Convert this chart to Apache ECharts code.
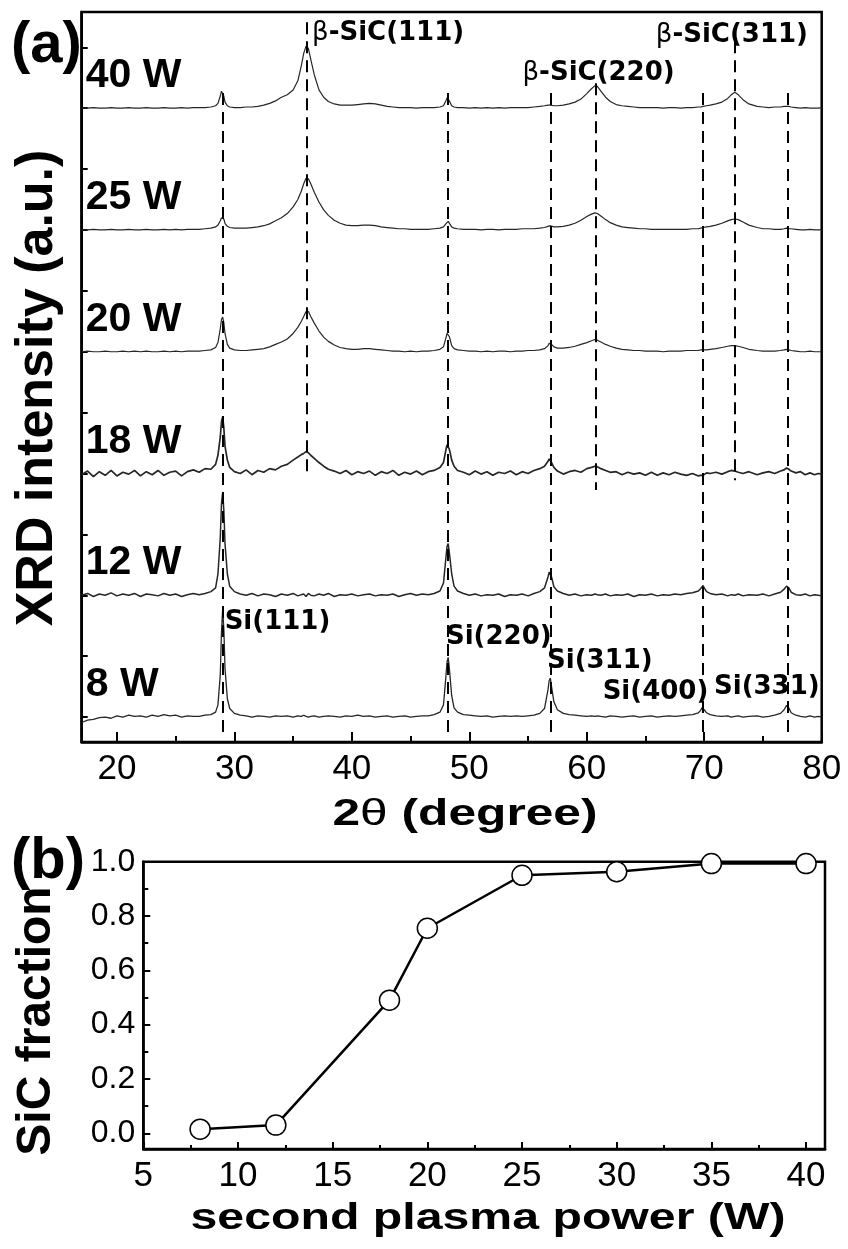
<!DOCTYPE html>
<html>
<head>
<meta charset="utf-8">
<script src="https://cdn.jsdelivr.net/npm/echarts@6/dist/echarts.min.js"></script>
<style>
  html, body { margin: 0; padding: 0; background: #fff; }
  #chart { width: 848px; height: 1249px; }
</style>
</head>
<body>
<div id="chart"></div>
<script>
// ---- XRD patterns: shared 2-theta grid (degree) ----
const twoTheta = [
  17.0,17.5,18.0,18.5,19.0,19.5,20.0,20.5,21.0,21.5,
  22.0,22.5,23.0,23.5,24.0,24.5,25.0,25.5,26.0,26.5,
  27.0,27.5,28.0,28.4,28.6,28.8,28.9,29.0,29.1,29.2,
  29.4,29.6,30.0,30.5,31.0,31.5,32.0,32.5,33.0,33.5,
  34.0,34.5,35.0,35.4,35.7,35.9,36.1,36.2,36.3,36.5,
  36.8,37.2,37.6,38.0,38.5,39.0,39.5,40.0,40.5,41.0,
  41.5,42.0,42.5,43.0,43.5,44.0,44.5,45.0,45.5,46.0,
  46.5,47.0,47.5,47.8,48.0,48.1,48.2,48.3,48.5,48.7,
  49.0,49.5,50.0,50.5,51.0,51.5,52.0,52.5,53.0,53.5,
  54.0,54.5,55.0,55.5,56.0,56.4,56.7,56.8,56.9,57.0,
  57.2,57.5,58.0,58.5,59.0,59.5,60.0,60.4,60.7,60.8,
  60.9,61.2,61.6,62.0,62.5,63.0,63.5,64.0,64.5,65.0,
  65.5,66.0,66.5,67.0,67.5,68.0,68.5,69.0,69.5,69.7,
  69.8,69.9,70.0,70.2,70.5,71.0,71.5,72.0,72.3,72.6,
  72.9,73.3,73.8,74.5,75.0,75.5,76.0,76.5,76.8,77.0,
  77.1,77.2,77.4,77.8,78.2,78.6,79.0,79.4,79.7,80.0
];

// Stacked intensities (a.u., already shifted by the stacking offset)
const xrd8W = [
  -0.09,-0.05,-0.04,-0.01,0.0,-0.02,0.02,0.0,0.03,0.01,
  0.02,0.0,0.03,0.01,0.04,0.02,0.03,0.0,0.02,0.01,
  0.01,0.03,0.04,0.08,0.2,0.7,1.4,1.76,1.45,0.8,
  0.3,0.14,0.06,0.03,0.02,0.0,0.02,0.01,0.0,0.02,
  0.01,0.02,0.0,0.02,0.01,0.03,0.01,0.02,0.0,0.01,
  0.02,0.0,0.01,0.02,0.01,0.0,0.02,0.01,0.03,0.01,
  0.02,0.0,0.01,0.02,0.0,0.01,0.02,0.0,0.01,0.02,
  0.02,0.04,0.08,0.2,0.65,0.9,0.98,0.8,0.35,0.15,
  0.08,0.04,0.03,0.02,0.01,0.02,0.0,0.01,0.02,0.01,
  0.02,0.01,0.02,0.03,0.06,0.14,0.45,0.6,0.64,0.5,
  0.25,0.12,0.06,0.04,0.03,0.02,0.01,0.02,0.01,0.0,
  0.02,0.01,0.0,0.02,0.01,0.0,0.01,0.02,0.0,0.01,
  0.02,0.0,0.01,0.02,0.01,0.02,0.03,0.04,0.07,0.11,
  0.15,0.16,0.12,0.07,0.04,0.02,0.01,0.02,0.0,0.01,
  0.02,0.0,0.01,0.02,0.0,0.01,0.03,0.06,0.12,0.19,
  0.2,0.15,0.07,0.03,0.01,0.0,0.02,0.0,0.01,0.0
];
const xrd12W = [
  2.0,2.03,1.98,2.02,2.0,2.04,1.99,2.02,2.0,2.03,
  1.98,2.02,2.01,1.99,2.03,2.0,2.02,1.98,2.01,2.03,
  2.01,2.03,2.06,2.12,2.35,2.95,3.5,3.69,3.4,2.85,
  2.35,2.15,2.06,2.02,2.0,2.03,1.99,2.02,2.01,1.98,
  2.02,2.0,2.03,1.99,2.01,2.02,1.98,2.01,2.03,2.0,
  1.99,2.02,2.0,2.03,1.98,2.01,2.0,2.02,1.99,2.01,
  2.02,1.99,2.01,2.0,2.02,1.98,2.01,2.03,2.0,2.02,
  2.01,2.03,2.07,2.2,2.6,2.8,2.85,2.7,2.35,2.15,
  2.07,2.03,2.0,2.02,1.99,2.01,2.0,2.02,1.98,2.01,
  2.0,2.02,1.99,2.03,2.06,2.12,2.3,2.38,2.41,2.3,
  2.14,2.07,2.03,2.0,2.02,1.99,2.01,2.0,2.02,1.99,
  2.01,2.0,2.02,1.99,2.01,2.0,2.02,1.98,2.01,2.0,
  2.02,1.99,2.01,2.0,2.02,2.01,2.03,2.04,2.07,2.11,
  2.14,2.16,2.12,2.06,2.03,2.01,2.02,1.99,2.01,2.0,
  2.02,1.99,2.01,2.0,2.02,1.99,2.02,2.05,2.1,2.15,
  2.16,2.12,2.05,2.01,2.0,2.02,1.99,2.01,2.0,1.99
];
const xrd18W = [
  3.98,4.04,3.95,4.03,3.97,4.05,3.96,4.02,3.99,4.05,
  3.96,4.03,3.98,4.05,3.97,4.02,4.04,3.96,4.03,4.06,
  4.02,4.08,4.07,4.15,4.3,4.6,4.85,4.93,4.75,4.45,
  4.22,4.1,4.03,4.0,4.06,3.98,4.05,4.02,4.08,4.06,
  4.12,4.15,4.22,4.27,4.31,4.33,4.36,4.37,4.34,4.3,
  4.25,4.18,4.12,4.07,4.04,4.0,4.05,3.98,4.03,4.0,
  4.04,3.97,4.03,4.0,4.05,3.97,4.02,3.99,4.04,3.98,
  4.03,4.05,4.1,4.18,4.38,4.47,4.49,4.4,4.22,4.12,
  4.05,4.02,3.98,4.04,3.99,4.03,3.97,4.02,4.0,4.04,
  3.98,4.03,4.0,4.05,4.08,4.12,4.2,4.24,4.25,4.18,
  4.1,4.04,3.99,4.03,4.05,4.02,4.08,4.1,4.12,4.12,
  4.11,4.08,4.05,4.02,4.03,3.98,4.02,3.99,4.01,3.97,
  4.02,3.97,4.01,3.98,4.02,3.99,3.97,4.0,3.96,3.97,
  3.95,3.97,3.98,4.01,4.0,4.02,3.99,4.03,4.05,4.04,
  4.02,4.0,4.03,3.98,4.01,4.03,4.0,4.04,4.06,4.09,
  4.1,4.07,4.04,4.01,4.03,3.98,4.01,3.98,4.0,3.99
];
const xrd20W = [
  6.0,6.01,6.0,6.0,6.01,6.0,6.0,6.01,6.0,6.01,
  6.0,6.01,6.0,6.0,6.01,6.0,6.01,6.0,6.01,6.01,
  6.01,6.02,6.03,6.07,6.15,6.38,6.53,6.57,6.48,6.3,
  6.12,6.06,6.03,6.02,6.02,6.03,6.04,6.05,6.08,6.12,
  6.16,6.21,6.3,6.4,6.5,6.58,6.66,6.69,6.66,6.58,
  6.47,6.34,6.24,6.17,6.11,6.07,6.05,6.04,6.04,6.05,
  6.05,6.04,6.03,6.02,6.01,6.01,6.0,6.01,6.0,6.01,
  6.01,6.02,6.04,6.08,6.22,6.3,6.33,6.25,6.1,6.05,
  6.03,6.02,6.01,6.01,6.0,6.01,6.0,6.01,6.01,6.0,
  6.01,6.01,6.02,6.02,6.03,6.05,6.1,6.14,6.15,6.12,
  6.08,6.06,6.06,6.07,6.09,6.12,6.15,6.18,6.2,6.2,
  6.19,6.16,6.12,6.09,6.06,6.04,6.03,6.02,6.02,6.01,
  6.01,6.01,6.0,6.01,6.01,6.01,6.02,6.02,6.02,6.03,
  6.03,6.03,6.03,6.03,6.04,6.05,6.07,6.09,6.1,6.1,
  6.09,6.07,6.04,6.02,6.01,6.01,6.01,6.02,6.03,6.04,
  6.04,6.03,6.02,6.01,6.0,6.0,6.01,6.0,6.0,6.0
];
const xrd25W = [
  8.0,8.0,8.01,8.0,8.0,8.01,8.0,8.0,8.01,8.0,
  8.0,8.01,8.0,8.0,8.01,8.0,8.01,8.0,8.01,8.01,
  8.01,8.02,8.03,8.05,8.08,8.15,8.2,8.21,8.18,8.11,
  8.06,8.04,8.03,8.03,8.03,8.04,8.05,8.07,8.1,8.15,
  8.2,8.27,8.38,8.5,8.64,8.76,8.85,8.87,8.84,8.76,
  8.62,8.46,8.33,8.24,8.16,8.11,8.08,8.07,8.07,8.08,
  8.08,8.07,8.05,8.04,8.03,8.02,8.02,8.01,8.01,8.01,
  8.01,8.02,8.03,8.05,8.1,8.13,8.14,8.11,8.05,8.03,
  8.02,8.01,8.01,8.01,8.0,8.01,8.01,8.0,8.01,8.01,
  8.01,8.02,8.02,8.02,8.03,8.04,8.06,8.07,8.07,8.06,
  8.05,8.05,8.06,8.08,8.11,8.16,8.22,8.26,8.28,8.28,
  8.27,8.23,8.17,8.12,8.08,8.05,8.04,8.03,8.02,8.02,
  8.01,8.01,8.01,8.01,8.01,8.01,8.01,8.02,8.02,8.03,
  8.03,8.04,8.04,8.05,8.06,8.08,8.11,8.15,8.17,8.18,
  8.17,8.13,8.08,8.04,8.02,8.02,8.01,8.01,8.02,8.03,
  8.03,8.02,8.02,8.01,8.0,8.0,8.01,8.0,8.0,8.0
];
const xrd40W = [
  10.0,10.0,10.01,10.0,10.0,10.01,10.0,10.0,10.01,10.0,
  10.0,10.01,10.0,10.0,10.01,10.0,10.0,10.01,10.0,10.01,
  10.01,10.01,10.02,10.04,10.08,10.2,10.28,10.3,10.2,10.1,
  10.04,10.02,10.01,10.01,10.02,10.02,10.03,10.05,10.08,10.12,
  10.18,10.22,10.3,10.45,10.7,10.9,11.02,11.03,10.98,10.8,
  10.55,10.3,10.18,10.11,10.07,10.05,10.05,10.05,10.06,10.07,
  10.08,10.07,10.05,10.03,10.02,10.01,10.01,10.01,10.0,10.01,
  10.01,10.01,10.02,10.04,10.12,10.17,10.18,10.12,10.04,10.02,
  10.01,10.01,10.0,10.01,10.0,10.01,10.0,10.01,10.0,10.01,
  10.01,10.01,10.01,10.02,10.03,10.04,10.05,10.05,10.05,10.04,
  10.04,10.04,10.05,10.07,10.1,10.15,10.24,10.32,10.37,10.38,
  10.36,10.28,10.18,10.11,10.06,10.04,10.03,10.02,10.01,10.01,
  10.01,10.01,10.0,10.01,10.01,10.0,10.01,10.01,10.02,10.02,
  10.03,10.03,10.03,10.04,10.05,10.07,10.1,10.16,10.22,10.26,
  10.22,10.14,10.07,10.03,10.02,10.01,10.02,10.02,10.03,10.03,
  10.03,10.03,10.02,10.01,10.0,10.01,10.0,10.0,10.0,10.01
];

const sampleNames = ['8 W', '12 W', '18 W', '20 W', '25 W', '40 W'];
const sampleSeries = [xrd8W, xrd12W, xrd18W, xrd20W, xrd25W, xrd40W];
const sampleBaselines = [0, 2, 4, 6, 8, 10];

// Reflection positions (degree)
const siPeaks = [29.05, 48.2, 56.9, 69.9, 77.1];
const sicPeaks = [36.2, 60.8, 72.6];

// Reflection labels and their anchors [2theta, a.u.]
const peakLabels = ['β-SiC(111)', 'β-SiC(220)', 'β-SiC(311)', 'Si(111)', 'Si(220)', 'Si(311)', 'Si(400)', 'Si(331)'];
const peakLabelAnchors = [[36.61, 11.23], [54.53, 10.57], [65.88, 11.2], [29.17, 1.56], [48.01, 1.31], [56.62, 0.92], [61.35, 0.41], [70.83, 0.49]];

// Axis ticks, panel (a)
const xTicksA = [20, 30, 40, 50, 60, 70, 80];
const xMinorA = [25, 35, 45, 55, 65, 75];
const yTicksA = [0, 1, 2, 3, 4, 5, 6, 7, 8, 9, 10, 11];

// ---- SiC fraction vs second plasma power ----
const plasmaPower = [8, 12, 18, 20, 25, 30, 35, 40];
const sicFraction = [0.015, 0.03, 0.49, 0.755, 0.95, 0.963, 0.993, 0.993];

// Axis ticks, panel (b)
const xTicksB = [5, 10, 15, 20, 25, 30, 35, 40];
const xMinorB = [7.5, 12.5, 17.5, 22.5, 27.5, 32.5, 37.5];
const yTicksB = [0, 0.2, 0.4, 0.6, 0.8, 1.0];
const yMinorB = [0.1, 0.3, 0.5, 0.7, 0.9];

sampleSeries.forEach(function (s, i) {
  if (s.length !== twoTheta.length) throw new Error('length mismatch in ' + sampleNames[i] + ': ' + s.length);
});

const SANS = '"Liberation Sans", Arial, sans-serif';
const WIDE = '"DejaVu Sans", Verdana, sans-serif';

const chart = echarts.init(document.getElementById('chart'), null, { renderer: 'canvas' });

function refLine(x, top, bottom) {
  return [{ coord: [x, top] }, { coord: [x, bottom] }];
}

const markLines = siPeaks.map(function (x) { return refLine(x, 10.25, -0.25); })
  .concat([refLine(sicPeaks[0], 11.41, 3.92), refLine(sicPeaks[1], 10.41, 3.73), refLine(sicPeaks[2], 11.1, 3.89)]);

// the two noisiest patterns are drawn a little heavier
const traceWidths = [1.3, 1.5, 1.7, 1.2, 1.2, 1.2];

const spectra = sampleSeries.map(function (ys, i) {
  const s = {
    name: sampleNames[i],
    type: 'line',
    xAxisIndex: 0,
    yAxisIndex: 0,
    data: twoTheta.map(function (x, k) { return [x, ys[k]]; }),
    showSymbol: false,
    symbol: 'none',
    lineStyle: { color: '#262626', width: traceWidths[i] },
    silent: true,
    z: 2
  };
  if (i === 0) {
    s.markLine = {
      silent: true,
      symbol: ['none', 'none'],
      label: { show: false },
      lineStyle: { color: '#000', width: 2, type: [12, 7] },
      data: markLines,
      z: 3
    };
  }
  return s;
});

const sampleTags = {
  type: 'scatter',
  xAxisIndex: 0,
  yAxisIndex: 0,
  symbolSize: 0,
  silent: true,
  itemStyle: { opacity: 1 },
  data: sampleNames.map(function (n, i) { return { name: n, value: [17.35, sampleBaselines[i] + 0.53] }; }),
  label: {
    show: true,
    position: [0, 0],
    align: 'left',
    verticalAlign: 'middle',
    formatter: '{b}',
    fontFamily: SANS,
    fontWeight: 'bold',
    fontSize: 41,
    color: '#000',
    opacity: 1
  },
  z: 5
};

const peakTags = {
  type: 'scatter',
  xAxisIndex: 0,
  yAxisIndex: 0,
  symbolSize: 0,
  silent: true,
  itemStyle: { opacity: 1 },
  data: peakLabels.map(function (n, i) { return { name: n, value: peakLabelAnchors[i] }; }),
  label: {
    show: true,
    position: [0, 0],
    align: 'left',
    verticalAlign: 'middle',
    opacity: 1,
    formatter: function (p) {
      const n = p.name;
      if (n.charAt(0) === 'β') return '{g|β}{b|' + n.slice(1) + '}';
      return '{b|' + n + '}';
    },
    rich: {
      g: { fontFamily: WIDE, fontSize: 26, color: '#000' },
      b: { fontFamily: WIDE, fontWeight: 'bold', fontSize: 26, color: '#000' }
    }
  },
  z: 5
};

const fractionSeries = {
  type: 'line',
  xAxisIndex: 2,
  yAxisIndex: 1,
  data: plasmaPower.map(function (p, i) { return [p, sicFraction[i]]; }),
  symbol: 'circle',
  symbolSize: 20,
  showSymbol: true,
  lineStyle: { color: '#000', width: 2.5 },
  itemStyle: { color: '#fff', borderColor: '#000', borderWidth: 1.5 },
  silent: true,
  z: 4
};

const axisLineStyle = { show: true, onZero: false, lineStyle: { color: '#000', width: 2.5 } };
const hiddenLine = { show: false, onZero: false };
const tickStyle = { color: '#000', width: 2 };

const option = {
  animation: false,
  backgroundColor: '#fff',
  grid: [
    { left: 81.7, right: 26.3, top: 12, bottom: 507, show: true, borderColor: '#000', borderWidth: 2.5, backgroundColor: 'transparent' },
    { left: 143.3, right: 23, top: 861.7, bottom: 100, show: true, borderColor: '#000', borderWidth: 2.5, backgroundColor: 'transparent' }
  ],
  xAxis: [
    {
      type: 'value', gridIndex: 0, position: 'bottom', min: 17, max: 80,
      axisLine: axisLineStyle,
      axisTick: { show: true, inside: true, length: 10, lineStyle: tickStyle, customValues: xTicksA },
      axisLabel: { show: true, customValues: xTicksA, margin: 10, fontFamily: SANS, fontSize: 35, color: '#000' },
      splitLine: { show: false }
    },
    {
      type: 'value', gridIndex: 0, position: 'bottom', min: 17, max: 80,
      axisLine: hiddenLine,
      axisTick: { show: true, inside: true, length: 6, lineStyle: tickStyle, customValues: xMinorA },
      axisLabel: { show: false },
      splitLine: { show: false }
    },
    {
      type: 'value', gridIndex: 1, position: 'bottom', min: 5, max: 41,
      axisLine: axisLineStyle,
      axisTick: { show: true, inside: true, length: 7, lineStyle: tickStyle, customValues: xTicksB },
      axisLabel: { show: true, customValues: xTicksB, margin: 10, fontFamily: SANS, fontSize: 35, color: '#000' },
      splitLine: { show: false }
    },
    {
      type: 'value', gridIndex: 1, position: 'bottom', min: 5, max: 41,
      axisLine: hiddenLine,
      axisTick: { show: true, inside: true, length: 4, lineStyle: tickStyle, customValues: xMinorB },
      axisLabel: { show: false },
      splitLine: { show: false }
    }
  ],
  yAxis: [
    {
      type: 'value', gridIndex: 0, position: 'left', min: -0.41, max: 11.58,
      axisLine: axisLineStyle,
      axisTick: { show: true, inside: true, length: 6, lineStyle: tickStyle, customValues: yTicksA },
      axisLabel: { show: false },
      splitLine: { show: false }
    },
    {
      type: 'value', gridIndex: 1, position: 'left', min: -0.058, max: 1.0,
      axisLine: axisLineStyle,
      axisTick: { show: true, inside: true, length: 7, lineStyle: tickStyle, customValues: yTicksB },
      axisLabel: {
        show: true, customValues: yTicksB, margin: 8, fontFamily: SANS, fontSize: 32, color: '#000',
        formatter: function (v) { return v.toFixed(1); }
      },
      splitLine: { show: false }
    },
    {
      type: 'value', gridIndex: 1, position: 'left', min: -0.058, max: 1.0,
      axisLine: hiddenLine,
      axisTick: { show: true, inside: true, length: 5, lineStyle: tickStyle, customValues: yMinorB },
      axisLabel: { show: false },
      splitLine: { show: false }
    }
  ],
  series: spectra.concat([sampleTags, peakTags, fractionSeries]),
  graphic: [
    {
      type: 'text', x: 11, y: 46, silent: true,
      style: { text: '(a)', font: 'bold 58px ' + SANS, fill: '#000', align: 'left', verticalAlign: 'middle', textAlign: 'left', textVerticalAlign: 'middle' }
    },
    {
      type: 'text', x: 11, y: 862, silent: true,
      style: { text: '(b)', font: 'bold 58px ' + SANS, fill: '#000', align: 'left', verticalAlign: 'middle', textAlign: 'left', textVerticalAlign: 'middle' }
    },
    {
      type: 'text', x: 38, y: 388, rotation: Math.PI / 2, silent: true,
      style: { text: 'XRD intensity (a.u.)', font: 'bold 52px ' + SANS, fill: '#000', align: 'center', verticalAlign: 'middle', textAlign: 'center', textVerticalAlign: 'middle' }
    },
    {
      type: 'text', x: 37, y: 1021, rotation: Math.PI / 2, silent: true,
      style: { text: 'SiC fraction', font: 'bold 48px ' + SANS, fill: '#000', align: 'center', verticalAlign: 'middle', textAlign: 'center', textVerticalAlign: 'middle' }
    },
    {
      type: 'text', x: 465, y: 815, scaleX: 1.38, silent: true,
      style: {
        text: '{n|2}{t|θ}{n| (degree)}', fill: '#000', align: 'center', verticalAlign: 'middle', textAlign: 'center', textVerticalAlign: 'middle',
        rich: {
          n: { font: 'bold 36px ' + SANS, fill: '#000' },
          t: { font: '36px ' + SANS, fill: '#000' }
        }
      }
    },
    {
      type: 'text', x: 488, y: 1219, scaleX: 1.34, silent: true,
      style: { text: 'second plasma power (W)', font: 'bold 36px ' + SANS, fill: '#000', align: 'center', verticalAlign: 'middle', textAlign: 'center', textVerticalAlign: 'middle' }
    }
  ]
};

chart.setOption(option);
</script>
</body>
</html>
